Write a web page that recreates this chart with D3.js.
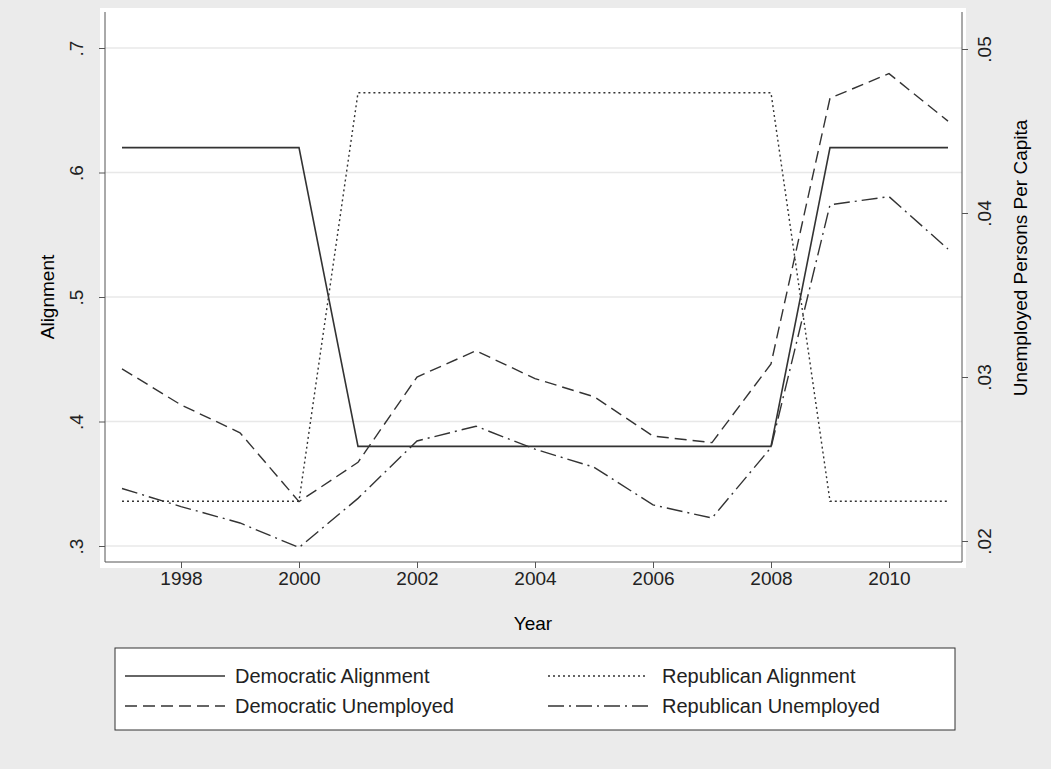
<!DOCTYPE html>
<html><head><meta charset="utf-8">
<script src="https://cdn.jsdelivr.net/npm/d3@7"></script>
<style>body{margin:0;background:#ebebeb;font-family:"Liberation Sans",Arial,sans-serif;}</style>
</head><body><svg id="chart" width="1051" height="769"></svg>
<script>
const years = d3.range(1997, 2012);
const demAlign = [.62,.62,.62,.62,.38,.38,.38,.38,.38,.38,.38,.38,.62,.62,.62];
const repAlign = [.336,.336,.336,.336,.664,.664,.664,.664,.664,.664,.664,.664,.336,.336,.336];
const demUnemp = [.0305,.0283,.0266,.0224,.0248,.0300,.0316,.0299,.0288,.0264,.0260,.0308,.0470,.0485,.0456];
const repUnemp = [.0232,.0221,.0211,.0196,.0226,.0261,.0270,.0256,.0245,.0222,.0214,.0257,.0405,.0410,.0378];
const leftTicks = [.3,.4,.5,.6,.7];
const rightTicks = [.02,.03,.04,.05];
const xTicks = [1998,2000,2002,2004,2006,2008,2010];

const svg = d3.select("#chart");
svg.append("rect").attr("x",100).attr("y",8).attr("width",866).attr("height",560).attr("fill","#fff");
const m = { left: 105, right: 962, top: 12, bottom: 562 };

const x = d3.scaleLinear().domain([1997, 2011]).range([122, 948]);
const yL = d3.scaleLinear().domain([.3, .7]).range([546, 48]);
const yR = d3.scaleLinear().domain([.02, .05]).range([541, 49]);

// grid
svg.append("g").selectAll("line").data(leftTicks).enter().append("line")
    .attr("x1", m.left).attr("x2", m.right)
    .attr("y1", d => yL(d)).attr("y2", d => yL(d))
    .attr("stroke", "#e8e8e8").attr("stroke-width", 1.5);

const axL = svg.append("g").attr("transform", `translate(${m.left},0)`)
    .call(d3.axisLeft(yL).tickValues(leftTicks).tickFormat(d => d3.format(".1f")(d).replace(/^0/, "")).tickSize(6));
axL.select(".domain").attr("d", `M0,${m.top}V${m.bottom}`);
axL.selectAll("text").attr("transform", "rotate(-90)").attr("x", 0).attr("y", -22)
    .attr("dy", 0).style("text-anchor", "middle").style("font-size", "19px").attr("fill", "#222");

const axR = svg.append("g").attr("transform", `translate(${m.right},0)`)
    .call(d3.axisRight(yR).tickValues(rightTicks).tickFormat(d => d3.format(".2f")(d).replace(/^0/, "")).tickSize(6));
axR.select(".domain").attr("d", `M0,${m.top}V${m.bottom}`);
axR.selectAll("text").attr("transform", "rotate(-90)").attr("x", 0).attr("y", 22)
    .attr("dy", "0.35em").style("text-anchor", "middle").style("font-size", "19px").attr("fill", "#222");

const axB = svg.append("g").attr("transform", `translate(0,${m.bottom})`)
    .call(d3.axisBottom(x).tickValues(xTicks).tickFormat(d3.format("d")).tickSize(6));
axB.select(".domain").attr("d", `M${m.left},0H${m.right}`);
axB.selectAll("text").attr("y", 10).style("font-size", "19px").attr("fill", "#222");
svg.selectAll(".domain, .tick line").attr("stroke", "#555");

svg.append("text").attr("x", 533).attr("y", 630).attr("text-anchor", "middle").style("font-size", "19px").text("Year");
svg.append("text").attr("transform", "translate(54,297) rotate(-90)").attr("text-anchor", "middle").style("font-size", "19px").text("Alignment");
svg.append("text").attr("transform", "translate(1027,258) rotate(-90)").attr("text-anchor", "middle").style("font-size", "19px").text("Unemployed Persons Per Capita");

const series = [
    { name: "Democratic Alignment", vals: demAlign, y: yL, dash: null, w: 1.6 },
    { name: "Republican Alignment", vals: repAlign, y: yL, dash: "2,3", w: 1.4 },
    { name: "Democratic Unemployed", vals: demUnemp, y: yR, dash: "12,6", w: 1.4 },
    { name: "Republican Unemployed", vals: repUnemp, y: yR, dash: "16,5,2,5", w: 1.4 }
];
series.forEach(s => {
    const line = d3.line().x((d, i) => x(years[i])).y(d => s.y(d));
    svg.append("path").attr("d", line(s.vals)).attr("fill", "none")
        .attr("stroke", "#333").attr("stroke-width", s.w).attr("stroke-dasharray", s.dash);
});

// legend
const lg = svg.append("g");
lg.append("rect").attr("x", 115).attr("y", 648).attr("width", 840).attr("height", 82)
    .attr("fill", "#fff").attr("stroke", "#333");
series.forEach((s, i) => {
    const col = i % 2, row = Math.floor(i / 2);
    const lx = col === 0 ? 125 : 548, ly = 676 + row * 30;
    lg.append("line").attr("x1", lx).attr("x2", lx + 100).attr("y1", ly).attr("y2", ly)
        .attr("stroke", "#333").attr("stroke-width", s.w).attr("stroke-dasharray", s.dash);
    lg.append("text").attr("x", col === 0 ? 235 : 662).attr("y", ly + 7).style("font-size", "20px").attr("fill", "#222").text(s.name);
});
</script></body></html>
